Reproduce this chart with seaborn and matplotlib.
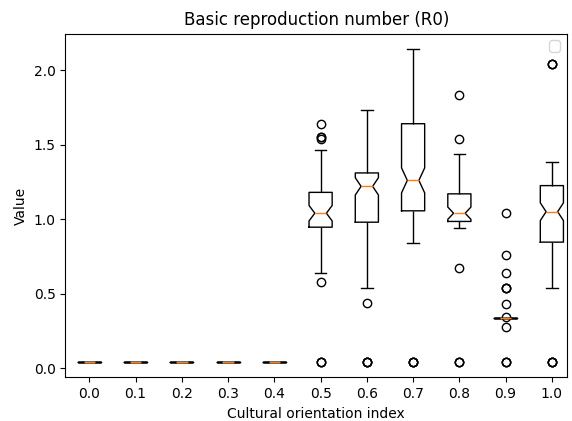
import matplotlib
matplotlib.use("Agg")
import matplotlib.pyplot as plt
import seaborn as sns
import pandas as pd

categories = ["0.0", "0.1", "0.2", "0.3", "0.4", "0.5", "0.6", "0.7", "0.8", "0.9", "1.0"]

r0_00 = [0.044, 0.044, 0.044, 0.044, 0.044, 0.044, 0.044, 0.044, 0.044, 0.044]
r0_01 = [0.044, 0.044, 0.044, 0.044, 0.044, 0.044, 0.044, 0.044, 0.044, 0.044]
r0_02 = [0.044, 0.044, 0.044, 0.044, 0.044, 0.044, 0.044, 0.044, 0.044, 0.044]
r0_03 = [0.044, 0.044, 0.044, 0.044, 0.044, 0.044, 0.044, 0.044, 0.044, 0.044]
r0_04 = [0.044, 0.044, 0.044, 0.044, 0.044, 0.044, 0.044, 0.044, 0.044, 0.044]

r0_05 = [0.044, 0.044, 0.044, 0.58, 0.64, 0.72, 0.79, 0.84, 0.88, 0.90,
         0.92, 0.935, 0.945, 0.95, 0.96, 0.97, 0.98, 0.99, 1.00, 1.01,
         1.02, 1.025, 1.03, 1.035, 1.04, 1.04, 1.05, 1.06, 1.07, 1.08,
         1.09, 1.10, 1.12, 1.13, 1.15, 1.16, 1.17, 1.183, 1.21, 1.24,
         1.27, 1.30, 1.34, 1.38, 1.42, 1.465, 1.54, 1.55, 1.55, 1.64]

r0_06 = [0.044, 0.044, 0.044, 0.044, 0.44, 0.54, 0.60, 0.65, 0.70, 0.74,
         0.78, 0.81, 0.84, 0.86, 0.88, 0.90, 0.92, 0.94, 0.96, 0.97,
         0.983, 1.00, 1.02, 1.04, 1.06, 1.08, 1.10, 1.11, 1.12, 1.13,
         1.14, 1.15, 1.16, 1.17, 1.18, 1.19, 1.20, 1.205, 1.21, 1.215,
         1.225, 1.23, 1.235, 1.24, 1.245, 1.25, 1.255, 1.26, 1.265, 1.27,
         1.275, 1.28, 1.285, 1.29, 1.295, 1.30, 1.30, 1.305, 1.31, 1.31,
         1.31, 1.33, 1.35, 1.37, 1.39, 1.41, 1.43, 1.45, 1.47, 1.49,
         1.51, 1.53, 1.55, 1.57, 1.59, 1.62, 1.65, 1.68, 1.70, 1.73]

r0_07 = [0.044, 0.044, 0.044, 0.044, 0.84, 0.86, 0.88, 0.90, 0.91, 0.92,
         0.93, 0.94, 0.95, 0.96, 0.965, 0.97, 0.975, 0.98, 0.985, 0.99,
         0.995, 1.00, 1.005, 1.01, 1.015, 1.02, 1.03, 1.035, 1.04, 1.05,
         1.058, 1.065, 1.07, 1.08, 1.09, 1.10, 1.105, 1.11, 1.12, 1.13,
         1.14, 1.145, 1.15, 1.16, 1.17, 1.175, 1.18, 1.19, 1.195, 1.20,
         1.205, 1.21, 1.215, 1.22, 1.225, 1.23, 1.235, 1.24, 1.25, 1.255,
         1.265, 1.28, 1.29, 1.30, 1.32, 1.33, 1.35, 1.36, 1.38, 1.39,
         1.40, 1.42, 1.43, 1.44, 1.46, 1.47, 1.48, 1.50, 1.51, 1.52,
         1.54, 1.55, 1.56, 1.57, 1.58, 1.60, 1.61, 1.62, 1.63, 1.64,
         1.64, 1.66, 1.68, 1.70, 1.72, 1.74, 1.76, 1.78, 1.80, 1.82,
         1.84, 1.86, 1.88, 1.90, 1.92, 1.94, 1.96, 1.98, 2.00, 2.02,
         2.04, 2.06, 2.08, 2.10, 2.11, 2.12, 2.125, 2.13, 2.135, 2.14]

r0_08 = [0.044, 0.044, 0.044, 0.67, 0.94, 0.945, 0.95, 0.955, 0.96, 0.965,
         0.97, 0.975, 0.983, 0.99, 0.995, 1.00, 1.005, 1.01, 1.015, 1.02,
         1.025, 1.03, 1.033, 1.036, 1.04, 1.04, 1.045, 1.05, 1.06, 1.07,
         1.08, 1.09, 1.10, 1.11, 1.12, 1.14, 1.16, 1.173, 1.19, 1.21,
         1.23, 1.25, 1.28, 1.31, 1.34, 1.38, 1.41, 1.44, 1.54, 1.83]

r0_09 = [0.044, 0.044, 0.044, 0.275, 0.335, 0.335, 0.335, 0.335, 0.335, 0.335,
         0.335, 0.335, 0.335, 0.335, 0.335, 0.335, 0.335, 0.335, 0.335, 0.335,
         0.335, 0.335, 0.335, 0.335, 0.335, 0.335, 0.335, 0.335, 0.335, 0.335,
         0.335, 0.335, 0.346, 0.43, 0.54, 0.54, 0.54, 0.64, 0.76, 1.04]

r0_10 = [0.044, 0.044, 0.044, 0.044, 0.537, 0.56, 0.59, 0.62, 0.64, 0.66,
         0.68, 0.70, 0.72, 0.73, 0.74, 0.75, 0.76, 0.77, 0.78, 0.79,
         0.80, 0.81, 0.82, 0.83, 0.84, 0.848, 0.86, 0.87, 0.88, 0.89,
         0.90, 0.91, 0.92, 0.93, 0.94, 0.95, 0.96, 0.97, 0.98, 0.99,
         1.00, 1.005, 1.01, 1.015, 1.02, 1.025, 1.03, 1.035, 1.04, 1.045,
         1.055, 1.06, 1.07, 1.08, 1.09, 1.10, 1.11, 1.12, 1.13, 1.14,
         1.15, 1.155, 1.16, 1.165, 1.17, 1.175, 1.18, 1.185, 1.19, 1.195,
         1.20, 1.205, 1.21, 1.215, 1.22, 1.24, 1.25, 1.26, 1.27, 1.28,
         1.29, 1.30, 1.31, 1.32, 1.33, 1.335, 1.34, 1.345, 1.35, 1.355,
         1.36, 1.365, 1.37, 1.372, 1.375, 1.377, 1.38, 2.04, 2.04, 2.04]

series = [r0_00, r0_01, r0_02, r0_03, r0_04, r0_05, r0_06, r0_07, r0_08, r0_09, r0_10]

rows = []
for cat, vals in zip(categories, series):
    for v in vals:
        rows.append({"Cultural orientation index": cat, "Value": v})
df = pd.DataFrame(rows)

fig = plt.figure(figsize=(5.72, 4.21), dpi=100)
ax = fig.add_axes([0.1145, 0.1036, 0.8770, 0.8168])

sns.boxplot(
    data=df, x="Cultural orientation index", y="Value", order=categories,
    ax=ax, fill=False, color="black", width=0.5, linewidth=1.0,
    notch=True, fliersize=6,
    medianprops={"color": "#ff7f0e", "linewidth": 1.0},
    flierprops={"marker": "o", "markerfacecolor": "none",
                "markeredgecolor": "black", "markeredgewidth": 1.0},
)

ax.set_ylim(-0.0608, 2.2448)
ax.set_xlim(-0.515, 10.33)
ax.set_title("Basic reproduction number (R0)")
ax.set_xlabel("Cultural orientation index")
ax.set_ylabel("Value")
ax.legend(loc="upper right")

fig.savefig("out.png", dpi=100)
